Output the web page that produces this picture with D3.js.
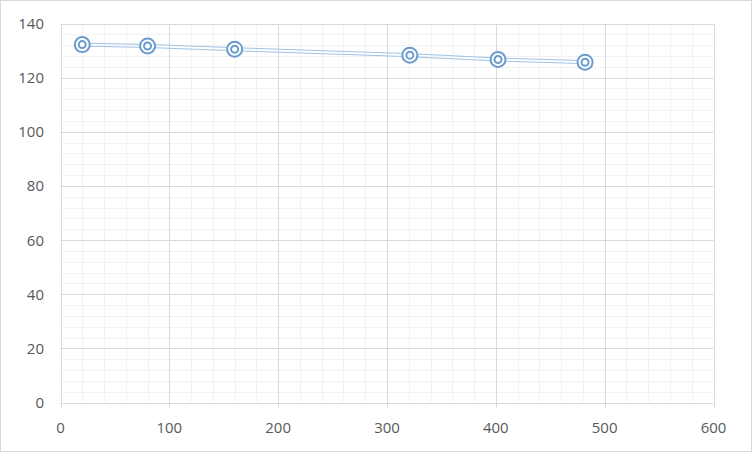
<!DOCTYPE html>
<html><head><meta charset="utf-8">
<script src="https://cdn.jsdelivr.net/npm/d3@7"></script>
<style>body{margin:0;background:#fff}svg{display:block}</style>
</head><body>
<svg id="c" width="752" height="452"></svg>
<script>
const xValues = [20, 80, 160, 321, 402, 482];
const yValues = [132.2, 131.7, 130.5, 128.3, 126.7, 125.7];
const xTicks = [0, 100, 200, 300, 400, 500, 600];
const yTicks = [0, 20, 40, 60, 80, 100, 120, 140];

const svg = d3.select("#c");
svg.append("rect").attr("x",0.5).attr("y",0.5).attr("width",751).attr("height",451)
  .attr("fill","#fff").attr("stroke","#d9d9d9");

const x = d3.scaleLinear().domain([0,600]).range([60.5,713.5]);
const y = d3.scaleLinear().domain([0,140]).range([402.5,23.5]);

const g = svg.append("g");
const xMinor = d3.range(0,601,20).filter(v=>v%100!==0);
const yMinor = d3.range(0,141,4).filter(v=>v%20!==0);
g.selectAll(".xm").data(xMinor).join("line")
  .attr("x1",d=>Math.round(x(d))+0.5).attr("x2",d=>Math.round(x(d))+0.5)
  .attr("y1",y(0)).attr("y2",y(140)).attr("stroke","#f2f2f2").attr("stroke-width",1);
g.selectAll(".ym").data(yMinor).join("line")
  .attr("y1",d=>Math.round(y(d))+0.5).attr("y2",d=>Math.round(y(d))+0.5)
  .attr("x1",x(0)).attr("x2",x(600)).attr("stroke","#f2f2f2").attr("stroke-width",1);
g.selectAll(".xM").data(xTicks).join("line")
  .attr("x1",d=>Math.round(x(d))+0.5).attr("x2",d=>Math.round(x(d))+0.5)
  .attr("y1",y(0)+5).attr("y2",y(140)).attr("stroke","#d9d9d9").attr("stroke-width",1);
g.selectAll(".yM").data(yTicks).join("line")
  .attr("y1",d=>Math.round(y(d))+0.5).attr("y2",d=>Math.round(y(d))+0.5)
  .attr("x1",x(0)).attr("x2",x(600)).attr("stroke","#d9d9d9").attr("stroke-width",1);

const font = "'Open Sans', 'Liberation Sans', sans-serif";
g.selectAll(".xl").data(xTicks).join("text")
  .attr("x",d=>x(d)).attr("y",433).attr("text-anchor","middle")
  .attr("font-family",font).attr("font-size",15).attr("fill","#595959").text(d=>d);
g.selectAll(".yl").data(yTicks).join("text")
  .attr("x",44).attr("y",d=>y(d)+5.5).attr("text-anchor","end")
  .attr("font-family",font).attr("font-size",15).attr("fill","#595959").text(d=>d);

const pts = xValues.map((v,i)=>[v,yValues[i]]);
[-1.5,1.5].forEach(off=>{
  const line = d3.line().x(d=>x(d[0])).y(d=>y(d[1])+off);
  svg.append("path").datum(pts).attr("d",line).attr("fill","none")
    .attr("stroke","#9dc3e6").attr("stroke-width",1);
});
const m = svg.selectAll(".mk").data(pts).join("g")
  .attr("transform",d=>`translate(${x(d[0])},${y(d[1])})`);
m.append("circle").attr("r",7.5).attr("fill","#fff").attr("stroke","#6a9ccf").attr("stroke-width",2);
m.append("circle").attr("r",3.5).attr("fill","none").attr("stroke","#6a9ccf").attr("stroke-width",2);
</script>
</body></html>
